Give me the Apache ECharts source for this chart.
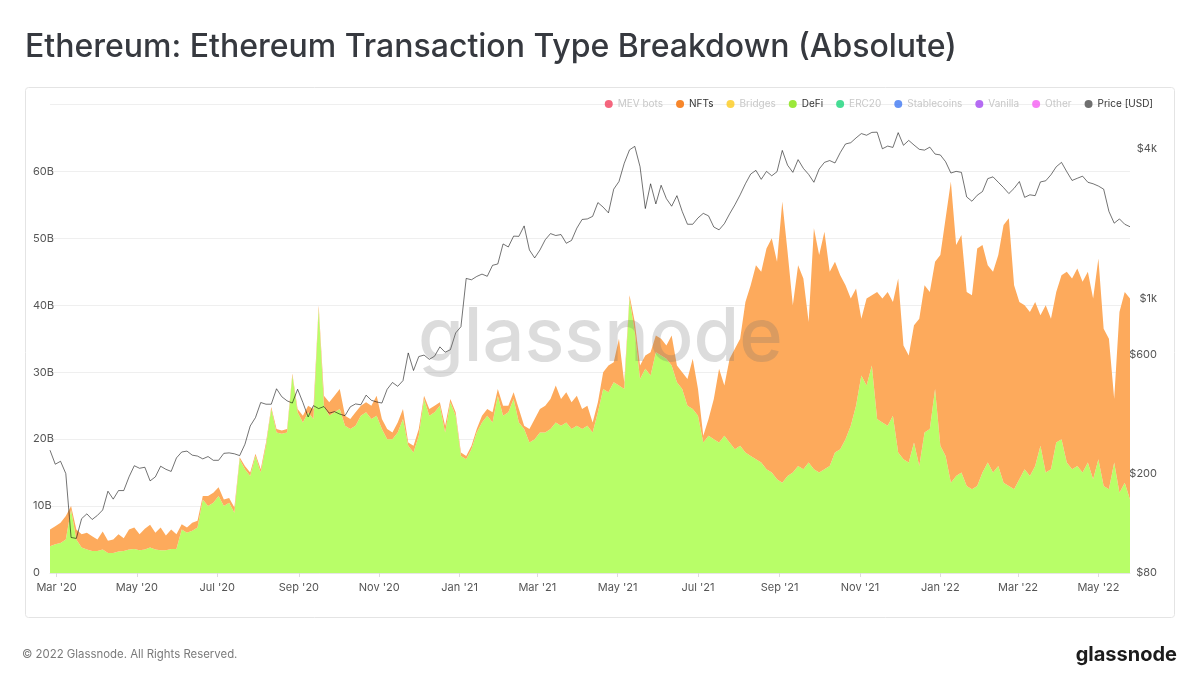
<!DOCTYPE html>
<html>
<head>
<meta charset="utf-8">
<script src="https://cdn.jsdelivr.net/npm/echarts@6/dist/echarts.min.js"></script>
<style>
html,body{margin:0;padding:0;background:#fff;}
#c{width:1200px;height:690px;}
</style>
</head>
<body>
<div id="c"></div>
<script>
// ---- data (sampled every 4 days from 2020-02-25) ----
const startDate = Date.UTC(2020, 1, 25);
const stepDays = 4;

const defi = [
4.0,4.3,4.5,5.0,9.5,5.0,3.8,3.5,3.3,3.3,
3.5,3.0,3.0,3.2,3.3,3.5,3.6,3.4,3.5,3.8,
3.5,3.4,3.4,3.6,3.6,6.5,6.0,6.3,6.8,11.0,
10.0,10.5,11.5,10.0,10.5,9.0,17.0,15.5,14.5,17.5,
15.0,19.0,24.5,21.0,20.8,21.0,29.5,24.0,22.5,24.0,
23.0,39.5,25.0,23.5,24.0,24.5,22.0,21.5,22.0,23.5,
24.0,23.0,23.5,21.5,20.0,20.0,21.0,23.0,19.0,18.0,
20.5,26.0,23.5,24.0,25.0,21.0,25.5,23.5,17.5,17.0,
18.5,21.0,22.5,23.5,22.5,26.5,23.5,24.0,26.0,22.5,
21.5,19.5,20.0,21.0,21.0,21.5,22.5,22.0,22.5,21.5,
22.0,21.5,22.0,21.0,24.0,27.5,27.0,28.5,28.0,27.5,
41.0,36.0,29.0,30.5,29.5,33.0,32.5,32.0,31.0,28.5,
27.5,25.0,24.5,23.5,19.5,20.5,20.0,19.5,20.5,19.5,
18.5,19.0,18.0,17.5,17.0,16.5,15.5,15.0,14.0,13.5,
14.5,15.0,16.0,15.5,16.5,15.5,15.0,15.5,16.0,18.0,
18.5,20.0,22.0,25.0,29.5,28.0,31.0,23.0,22.5,22.0,
23.5,18.0,17.0,16.5,19.5,16.0,21.0,21.5,27.5,19.0,
17.5,13.5,14.5,15.0,13.0,12.5,13.0,15.0,16.5,15.0,
16.0,13.5,13.0,12.5,14.0,15.5,14.5,16.0,19.0,15.0,
15.5,19.5,20.0,16.5,15.5,16.0,15.0,16.5,14.0,17.0,
13.0,12.5,16.5,12.0,13.5,11.0
];

const nfts = [
2.5,2.7,3.0,3.5,0.5,1.5,2.0,2.5,2.2,1.7,
2.7,1.8,2.0,2.6,1.9,3.0,3.2,2.4,3.1,3.4,
2.5,3.4,2.2,2.9,2.2,0.8,0.8,1.2,1.0,0.5,
1.5,1.5,1.3,1.0,0.7,0.8,0.3,0.5,0.5,0.3,
0.5,0.5,0.3,0.5,0.5,0.5,0.3,0.5,1.0,1.0,
1.5,0.5,1.5,2.0,2.5,3.0,1.5,1.5,2.0,1.5,
1.5,2.0,3.0,1.5,1.5,1.0,1.5,1.5,0.5,1.0,
1.0,0.5,1.0,1.0,0.5,1.0,0.5,0.5,0.5,0.5,
0.5,0.5,1.0,1.0,1.5,1.0,1.5,1.0,1.0,2.0,
0.5,2.0,3.0,3.5,4.0,4.5,5.5,4.0,4.5,4.0,
4.5,3.0,3.0,1.5,1.5,2.5,4.0,3.0,7.0,1.0,
0.5,1.5,2.0,2.0,3.5,2.5,2.5,2.0,4.5,2.5,
2.5,4.0,7.5,4.0,1.0,2.5,6.0,11.0,7.5,12.5,
15.0,16.0,22.5,25.5,29.0,28.5,33.0,35.0,32.5,42.0,
33.5,25.0,30.0,28.5,21.0,36.0,32.5,35.5,29.0,28.5,
26.0,23.0,19.0,17.5,8.5,13.0,10.5,19.0,18.5,20.0,
17.0,26.0,17.0,16.0,17.5,22.0,22.0,20.5,19.0,28.5,
35.5,45.0,34.5,35.5,29.0,29.0,35.5,34.0,29.5,30.0,
31.5,38.5,40.0,30.5,26.5,24.5,24.5,24.5,19.5,25.0,
22.5,22.5,24.5,28.5,28.5,29.5,28.5,28.5,27.0,30.0,
23.5,22.5,9.5,27.0,28.5,30.0
];

const price = [
248,218,224,200,111,110,132,138,131,136,
143,170,158,171,171,194,215,210,212,187,
194,214,208,204,231,244,246,237,235,229,
234,226,226,241,242,240,236,262,310,335,
385,379,379,437,406,391,383,435,385,337,
374,364,371,349,354,346,341,370,380,377,
412,393,387,383,435,463,447,471,608,517,
588,596,573,590,643,612,626,731,774,1208,
1193,1230,1257,1232,1363,1380,1660,1614,1784,1780,
1960,1570,1459,1570,1725,1826,1794,1810,1670,1715,
1920,2080,2090,2140,2430,2330,2210,2750,2950,3490,
3950,4080,3380,2300,2890,2400,2850,2520,2350,2590,
2240,1990,1990,2110,2200,2150,1940,1890,2000,2190,
2380,2610,2890,3160,3270,3010,3240,3110,3230,3930,
3430,3210,3610,3330,3150,2930,3310,3520,3580,3500,
3850,4170,4220,4410,4590,4520,4640,4650,3990,4090,
4040,4630,4120,4310,4130,3970,3940,4050,3800,3770,
3540,3190,3240,3210,2560,2460,2600,2690,3030,3080,
2930,2790,2640,2770,2950,2550,2610,2590,2940,2970,
3140,3380,3520,3230,2980,3040,3100,2930,2890,2830,
2750,2240,2010,2090,1990,1945
];

const legendNames = ['MEV bots','NFTs','Bridges','DeFi','ERC20','Stablecoins','Vanilla','Other','Price [USD]'];
const legendColors = ['#f2405e','#f7862b','#fccb1c','#9be83a','#19d47a','#3f78f2','#a347f0','#f55ef2','#6f6f6f'];
const inactiveNames = ['MEV bots','Bridges','ERC20','Stablecoins','Vanilla','Other'];
const priceTicks = [80, 200, 600, 1000, 4000];
const priceTickLabels = ['$80', '$200', '$600', '$1k', '$4k'];
const leftTicksMax = 70;

// ---- build ----
const dates = defi.map((_, i) => startDate + i * stepDays * 86400000);
const pair = arr => arr.map((v, i) => [dates[i], v]);
const MONTHS = ['Jan','Feb','Mar','Apr','May','Jun','Jul','Aug','Sep','Oct','Nov','Dec'];
const FONT = 'Inter, "Noto Sans", sans-serif';

const chart = echarts.init(document.getElementById('c'), null, {renderer: 'canvas'});

const emptySeries = inactiveNames.map(n => ({
  name: n, type: 'line', data: [], showSymbol: false,
  itemStyle: {color: legendColors[legendNames.indexOf(n)]}
}));

chart.setOption({
  animation: false,
  useUTC: true,
  textStyle: {fontFamily: FONT},
  title: {
    text: 'Ethereum: Ethereum Transaction Type Breakdown (Absolute)',
    left: 20, top: 26,
    textStyle: {fontSize: 32, fontWeight: 500, color: '#36393f', fontFamily: FONT}
  },
  legend: {
    top: 94, right: 42,
    icon: 'circle', itemWidth: 8, itemHeight: 8, itemGap: 13,
    textStyle: {fontSize: 10, color: '#333', fontFamily: FONT},
    data: legendNames.map((n, i) => inactiveNames.includes(n)
      ? {name: n, itemStyle: {color: legendColors[i], opacity: 0.8}, textStyle: {color: '#c8c8c8'}}
      : {name: n, itemStyle: {color: legendColors[i]}})
  },
  graphic: [
    {type: 'rect', shape: {x: 25.5, y: 87.5, width: 1149, height: 530, r: 3},
     style: {fill: 'none', stroke: '#e4e4e4', lineWidth: 1}, z: -10, silent: true},
    {type: 'text', left: 418, top: 302, z: 100, silent: true,
     style: {text: 'glassnode', font: '500 74px Inter, sans-serif', fill: 'rgba(110,110,110,0.24)'}},
    {type: 'text', left: 22, top: 649,
     style: {text: '\u00a9 2022 Glassnode. All Rights Reserved.', font: '11.4px Inter, sans-serif', fill: '#7a7a7a'}},
    {type: 'text', right: 23, top: 645,
     style: {text: 'glassnode', font: 'bold 20px Inter, sans-serif', fill: '#1c1c1c'}}
  ],
  grid: {left: 50, right: 70, top: 104.5, bottom: 117, containLabel: false},
  xAxis: {
    type: 'time',
    min: dates[0], max: dates[dates.length - 1],
    splitNumber: 11,
    axisLine: {show: true, lineStyle: {color: '#e6e6e6'}},
    axisTick: {show: true, length: 4, lineStyle: {color: '#dcdcdc'}},
    splitLine: {show: false},
    axisLabel: {
      color: '#555', fontSize: 11, margin: 9, fontFamily: FONT, hideOverlap: false,
      formatter: v => { const d = new Date(v); return MONTHS[d.getUTCMonth()] + " '" + String(d.getUTCFullYear()).slice(2); }
    }
  },
  yAxis: [
    {
      type: 'value', min: 0, max: leftTicksMax, interval: 10, position: 'left',
      axisLine: {show: false}, axisTick: {show: false},
      splitLine: {lineStyle: {color: '#efefef'}},
      axisLabel: {
        align: 'left', margin: 17, color: '#555', fontSize: 11, fontFamily: FONT,
        padding: [0, 0, 8, 0],
        formatter: v => v === leftTicksMax ? '' : (v === 0 ? '0' : v + 'B')
      }
    },
    {
      type: 'log', min: 80, max: 6000, position: 'right',
      axisLine: {show: false}, axisTick: {show: false}, splitLine: {show: false},
      axisLabel: {
        align: 'right', margin: 27, color: '#555', fontSize: 11, fontFamily: FONT,
        padding: [0, 0, 8, 0],
        customValues: priceTicks,
        formatter: v => { const k = priceTicks.findIndex(t => Math.abs(t - v) / t < 0.01); return k >= 0 ? priceTickLabels[k] : ''; }
      }
    }
  ],
  series: [
    emptySeries[0],
    {
      name: 'DeFi', type: 'line', stack: 'tx', data: pair(defi), showSymbol: false,
      itemStyle: {color: '#9be83a'}, lineStyle: {width: 0},
      areaStyle: {color: '#b8fe68', opacity: 1}, z: 2
    },
    {
      name: 'NFTs', type: 'line', stack: 'tx', data: pair(nfts), showSymbol: false,
      itemStyle: {color: '#f7862b'}, lineStyle: {width: 0},
      areaStyle: {color: '#fdaa5c', opacity: 1}, z: 2
    },
    ...emptySeries.slice(1),
    {
      name: 'Price [USD]', type: 'line', yAxisIndex: 1, data: pair(price), showSymbol: false,
      itemStyle: {color: '#6f6f6f'}, lineStyle: {width: 1, color: 'rgba(0,0,0,0.55)'}, z: 5
    }
  ]
});
</script>
</body>
</html>
